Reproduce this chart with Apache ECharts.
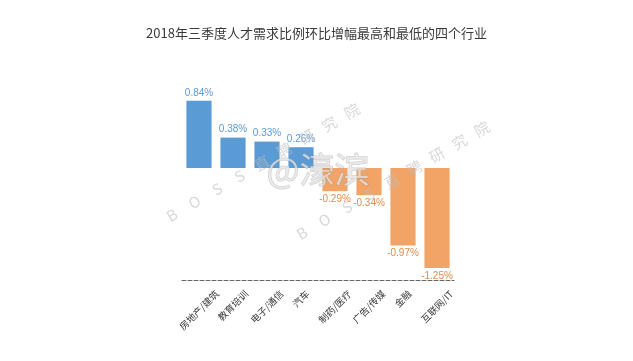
<!DOCTYPE html>
<html><head><meta charset="utf-8">
<script src="https://cdn.jsdelivr.net/npm/echarts@6/dist/echarts.min.js"></script>
<style>html,body{margin:0;padding:0;background:#fff}#c{width:633px;height:361px}</style>
</head><body><div id="c"></div>
<script>
const categories = ['房地产/建筑','教育培训','电子/通信','汽车','制药/医疗','广告/传媒','金融','互联网/IT'];
const values = [0.84, 0.38, 0.33, 0.26, -0.29, -0.34, -0.97, -1.25];
const titleText = '2018年三季度人才需求比例环比增幅最高和最低的四个行业';
const watermarkChars = ['B','O','S','S','直','聘','研','究','院'];
const watermarkHandle = '@濠滨';
const BLUE = '#5B9BD5', ORANGE = '#F2A467', ORANGE_LABEL = '#E58B46';
const LABEL_FONT = 9.5, LABEL_FAMILY = '"Noto Sans CJK SC"';

// Excel-style rotated labels: bounding box centred under the category, top at a fixed offset.
const cv = document.createElement('canvas').getContext('2d');
cv.font = LABEL_FONT + 'px ' + LABEL_FAMILY;
const TOP_GAP = 8;
const rich = {};
categories.forEach((c, i) => {
  const L = cv.measureText(c).width;
  const h = LABEL_FONT + 2;
  const D = TOP_GAP + (L + h) * 0.3536;
  const p = Math.SQRT2 * D;
  rich['p' + i] = { padding: [p, p, 0, 0], fontSize: LABEL_FONT, color: '#383838', fontFamily: 'Noto Sans CJK SC' };
});

// faint diagonal watermark (decoration)
function watermark(x0, y0) {
  return watermarkChars.map((ch, k) => ({
    type: 'text', x: x0 + k * 22.5, y: y0 - k * 13, rotation: 0.52, z: 100,
    style: { text: ch, fill: 'rgba(190,190,190,0.6)', font: '15px "Noto Sans CJK SC"', textAlign: 'center', textVerticalAlign: 'middle' }
  }));
}

const chart = echarts.init(document.getElementById('c'));
chart.setOption({
  animation: false,
  title: { text: titleText, left: 'center', top: 22, textStyle: { fontSize: 13, fontWeight: 'normal', color: '#3a3a3a', fontFamily: 'Noto Sans CJK SC' } },
  grid: { left: 182, right: 179, top: 96, bottom: 81 },
  xAxis: {
    type: 'category', data: categories, position: 'bottom',
    axisLine: { onZero: false, lineStyle: { type: 'dashed', color: '#666', width: 1 } },
    axisTick: { show: false },
    axisLabel: {
      rotate: 45, align: 'center', verticalAlign: 'middle', margin: 0, interval: 0,
      formatter: (v, i) => '{p' + i + '|' + v + '}', rich: rich
    }
  },
  yAxis: { type: 'value', min: -1.4, max: 0.9, show: false, splitLine: { show: false } },
  series: [{
    type: 'bar', barWidth: '74%',
    data: values.map(v => ({
      value: v,
      itemStyle: { color: v >= 0 ? BLUE : ORANGE },
      label: { show: true, position: v >= 0 ? 'top' : 'bottom', distance: 3, color: v >= 0 ? BLUE : ORANGE_LABEL, fontSize: 10, formatter: p => p.value.toFixed(2) + '%' }
    }))
  }],
  graphic: watermark(172, 215).concat(watermark(302, 233)).concat([
    { type: 'text', left: 266, top: 152, z: 101, style: { text: watermarkHandle, fill: 'rgba(230,230,230,0.75)', stroke: 'rgba(130,130,130,0.4)', lineWidth: 1, font: '35px "Noto Sans CJK SC"' } }
  ])
});
</script></body></html>
